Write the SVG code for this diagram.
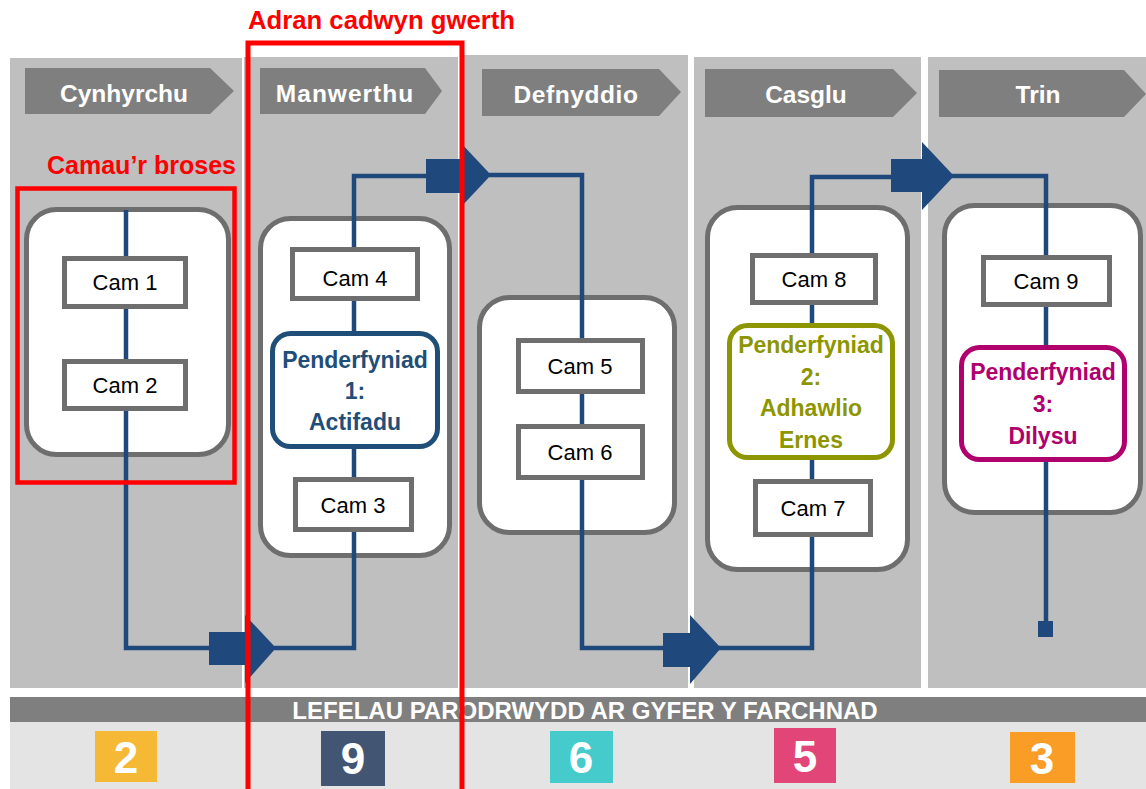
<svg xmlns="http://www.w3.org/2000/svg" width="1146" height="789" viewBox="0 0 1146 789">
<defs>
<style>
.col{fill:#BFBFBF}
.hdr{fill:#7F7F7F}
.hdrt{font-family:"Liberation Sans",Arial,sans-serif;font-weight:bold;font-size:24.5px;fill:#FFFFFF;text-anchor:middle}
.cont{fill:#FFFFFF;stroke:#6E6E6E;stroke-width:5}
.cam{fill:#FFFFFF;stroke:#6E6E6E;stroke-width:5}
.camt{font-family:"Liberation Sans",Arial,sans-serif;font-size:22px;fill:#000000;text-anchor:middle}
.dec{fill:#FFFFFF;stroke-width:5}
.dect{font-family:"Liberation Sans",Arial,sans-serif;font-weight:bold;font-size:23px;text-anchor:middle}
.flow{fill:none;stroke:#1F497D;stroke-width:4.5;stroke-linejoin:miter}
.arr{fill:#1F497D}
.red{fill:none;stroke:#FF0000}
.redt{font-family:"Liberation Sans",Arial,sans-serif;font-weight:bold;font-size:25px;fill:#FF0000}
.tile{font-family:"Liberation Sans",Arial,sans-serif;font-weight:bold;font-size:44px;fill:#FFFFFF;text-anchor:middle}
</style>
</defs>
<rect x="0" y="0" width="1146" height="789" fill="#FFFFFF"/>

<g id="columns">
<rect class="col" x="10" y="58" width="232" height="630"/>
<rect class="col" x="244" y="57" width="214" height="631"/>
<rect class="col" x="464" y="55" width="224" height="633"/>
<rect class="col" x="694" y="57" width="227" height="631"/>
<rect class="col" x="928" y="57" width="218" height="631"/>
</g>

<g id="headers">
<g id="hdr-cynhyrchu"><polygon class="hdr" points="25,68 210,68 234,91 210,114 25,114"/><text class="hdrt" x="124" y="102">Cynhyrchu</text></g>
<g id="hdr-manwerthu"><polygon class="hdr" points="260,68 425,68 442,91 425,114 260,114"/><text class="hdrt" x="345" y="102" letter-spacing="1">Manwerthu</text></g>
<g id="hdr-defnyddio"><polygon class="hdr" points="482,69 659,69 681,92 659,116 482,116"/><text class="hdrt" x="576" y="103" letter-spacing="0.6">Defnyddio</text></g>
<g id="hdr-casglu"><polygon class="hdr" points="705,69 893,69 917,93 893,117 705,117"/><text class="hdrt" x="806" y="103">Casglu</text></g>
<g id="hdr-trin"><polygon class="hdr" points="939,70 1124,70 1146,94 1124,117 939,117"/><text class="hdrt" x="1038" y="103">Trin</text></g>
</g>

<g id="containers">
<rect id="cont1" class="cont" x="26.5" y="209.5" width="202" height="245" rx="30"/>
<rect id="cont2" class="cont" x="260.5" y="218.5" width="189" height="337" rx="30"/>
<rect id="cont3" class="cont" x="479.5" y="297.5" width="195" height="235" rx="30"/>
<rect id="cont4" class="cont" x="707.5" y="207.5" width="200" height="362" rx="30"/>
<rect id="cont5" class="cont" x="944.5" y="205.5" width="196" height="307" rx="30"/>
</g>

<g id="connectors">
<polyline class="flow" points="126,210 126,648 212,648"/>
<rect class="arr" x="209" y="632" width="37" height="33"/>
<polygon class="arr" points="245,615 276,648 245,683"/>
<polyline class="flow" points="274,648 354,648 354,176 428,176"/>
<rect class="arr" x="426" y="159" width="35" height="34"/>
<polygon class="arr" points="460,142 491,175 460,208"/>
<polyline class="flow" points="489,175 582,175 582,648 665,648"/>
<rect class="arr" x="663" y="633" width="28" height="34"/>
<polygon class="arr" points="690,615 721,648 690,684"/>
<polyline class="flow" points="719,648 812,648 812,177 893,177"/>
<rect class="arr" x="891" y="159" width="32" height="33"/>
<polygon class="arr" points="922,142 954,176 922,210"/>
<polyline class="flow" points="952,176 1046,176 1046,625"/>
<rect class="arr" x="1038" y="621" width="15" height="16"/>
</g>

<g id="cam1"><rect class="cam" x="64.5" y="258.5" width="121" height="48"/><text class="camt" x="125" y="290">Cam 1</text></g>
<g id="cam2"><rect class="cam" x="64.5" y="361.5" width="121" height="47"/><text class="camt" x="125" y="393">Cam 2</text></g>
<g id="cam4"><rect class="cam" x="292.5" y="249.5" width="125" height="49"/><text class="camt" x="355" y="286">Cam 4</text></g>
<g id="dec1"><rect class="dec" x="272.5" y="333.5" width="165" height="113" rx="18" stroke="#1F4E79"/>
<text class="dect" fill="#1F4E79" x="355" y="368">Penderfyniad</text>
<text class="dect" fill="#1F4E79" x="355" y="399">1:</text>
<text class="dect" fill="#1F4E79" x="355" y="430">Actifadu</text></g>
<g id="cam3"><rect class="cam" x="295.5" y="479.5" width="116" height="50"/><text class="camt" x="353" y="513">Cam 3</text></g>
<g id="cam5"><rect class="cam" x="518.5" y="340.5" width="124" height="51"/><text class="camt" x="580" y="374">Cam 5</text></g>
<g id="cam6"><rect class="cam" x="518.5" y="426.5" width="124" height="51"/><text class="camt" x="580" y="460">Cam 6</text></g>
<g id="cam8"><rect class="cam" x="752.5" y="255.5" width="123" height="47"/><text class="camt" x="814" y="287">Cam 8</text></g>
<g id="dec2"><rect class="dec" x="729.5" y="325.5" width="163" height="132" rx="18" stroke="#8D9600"/>
<text class="dect" fill="#8D9600" x="811" y="353">Penderfyniad</text>
<text class="dect" fill="#8D9600" x="811" y="384.5">2:</text>
<text class="dect" fill="#8D9600" x="811" y="416">Adhawlio</text>
<text class="dect" fill="#8D9600" x="811" y="447.5">Ernes</text></g>
<g id="cam7"><rect class="cam" x="755.5" y="481.5" width="115" height="53"/><text class="camt" x="813" y="516">Cam 7</text></g>
<g id="cam9"><rect class="cam" x="983.5" y="257.5" width="126" height="47"/><text class="camt" x="1046" y="289">Cam 9</text></g>
<g id="dec3"><rect class="dec" x="961.5" y="347.5" width="163" height="112" rx="18" stroke="#B0006E"/>
<text class="dect" fill="#B0006E" x="1043" y="380">Penderfyniad</text>
<text class="dect" fill="#B0006E" x="1043" y="412">3:</text>
<text class="dect" fill="#B0006E" x="1043" y="444">Dilysu</text></g>

<g id="readiness">
<rect x="10" y="697" width="1136" height="25" fill="#7F7F7F"/>
<rect x="10" y="722" width="1136" height="67" fill="#E4E4E4"/>
<text x="585" y="719" font-family="'Liberation Sans',Arial,sans-serif" font-weight="bold" font-size="24" fill="#FFFFFF" text-anchor="middle">LEFELAU PARODRWYDD AR GYFER Y FARCHNAD</text>
<g id="tile2"><rect x="95" y="731" width="62" height="51" fill="#F6B935"/><text class="tile" x="126" y="773">2</text></g>
<g id="tile9"><rect x="321" y="731" width="64" height="55" fill="#425673"/><text class="tile" x="353" y="774">9</text></g>
<g id="tile6"><rect x="550" y="731" width="63" height="52" fill="#45CBCB"/><text class="tile" x="581" y="773">6</text></g>
<g id="tile5"><rect x="774" y="728" width="62" height="55" fill="#E24678"/><text class="tile" x="805" y="772">5</text></g>
<g id="tile3"><rect x="1010" y="732" width="65" height="51" fill="#F99D26"/><text class="tile" x="1042" y="774">3</text></g>
</g>

<g id="annotations">
<text class="redt" x="248" y="29" style="font-size:25.7px">Adran cadwyn gwerth</text>
<rect class="red" x="248" y="43" width="214" height="760" stroke-width="5"/>
<text class="redt" x="236" y="174" text-anchor="end">Camau’r broses</text>
<rect class="red" x="17.5" y="188.5" width="217" height="294" stroke-width="4.5"/>
</g>
</svg>
